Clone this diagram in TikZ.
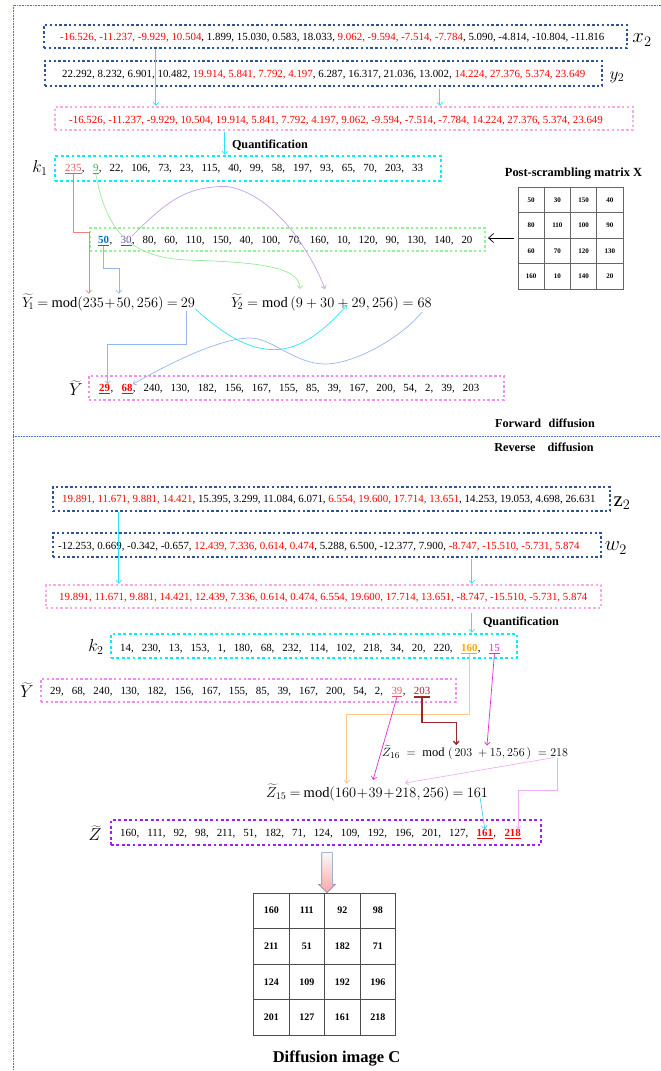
\documentclass[tikz,border=0pt]{standalone}
\usepackage{fontspec}
\setmainfont{Liberation Serif}
\usetikzlibrary{arrows.meta, positioning, calc, shapes.arrows, matrix}

\definecolor{rowblue}{RGB}{46, 84, 150}
\definecolor{rowpink}{RGB}{250, 170, 225}
\definecolor{rowviolet}{RGB}{240, 140, 240}
\definecolor{rowcyan}{RGB}{0, 240, 255}
\definecolor{rowgreen}{RGB}{150, 240, 150}
\definecolor{rowpurple}{RGB}{160, 30, 240}
\definecolor{framblue}{RGB}{70, 110, 200}
\definecolor{numred}{RGB}{255, 0, 0}
\definecolor{numpink}{RGB}{225, 90, 100}
\definecolor{numgreen}{RGB}{60, 170, 90}
\definecolor{numblue}{RGB}{0, 112, 192}
\definecolor{numpurple}{RGB}{120, 60, 170}
\definecolor{numorange}{RGB}{255, 170, 0}
\definecolor{linkred}{RGB}{240, 130, 130}
\definecolor{linkblue}{RGB}{150, 180, 240}
\definecolor{linkcyan}{RGB}{40, 230, 250}
\definecolor{linkgreen}{RGB}{150, 235, 150}
\definecolor{linkpurple}{RGB}{195, 160, 235}
\definecolor{linkorange}{RGB}{255, 200, 140}
\definecolor{linkbrown}{RGB}{150, 40, 40}
\definecolor{linkmagenta}{RGB}{230, 40, 200}
\definecolor{linklilac}{RGB}{240, 175, 240}
\definecolor{linksky}{RGB}{80, 200, 240}

\newcommand{\rd}[1]{\textcolor{numred}{#1}}
\newcommand{\nsep}{,\hspace{8pt}\null}
\newcommand{\uln}[2]{\textcolor{#1}{\underline{#2}}}
\newcommand{\ulbold}[2]{\textcolor{#1}{\vtop{\hbox{#2}\kern1.2pt\hrule height 1.6pt}}}
\newcommand{\tightmath}{\medmuskip=1mu\thickmuskip=4mu\relax}

\tikzset{
  dotbox/.style={draw=#1, line width=2.4pt, dash pattern=on 2.4pt off 2.4pt, inner sep=0pt},
  rowtext/.style={font=\fontsize{10.9}{13}\selectfont, inner sep=0pt, anchor=base west},
  rowlabel/.style={font=\fontsize{17}{20}\selectfont, inner sep=0pt},
  formula/.style={font=\fontsize{14.5}{17}\selectfont, inner sep=0pt, anchor=base west},
  heading/.style={font=\bfseries\fontsize{12.2}{14}\selectfont, inner sep=0pt},
  link/.style={line width=0.7pt, -{Straight Barb[length=3pt,width=5.5pt]}},
  cellx/.style={draw=black!60, line width=0.6pt, minimum width=26.25pt, minimum height=25.5pt, inner sep=0pt, font=\bfseries\fontsize{7}{8}\selectfont},
  cellc/.style={draw=black!70, line width=0.6pt, minimum size=35.5pt, inner sep=0pt, font=\bfseries\fontsize{10}{12}\selectfont},
  blockarrow/.style={single arrow, shape border rotate=270, draw=rowblue!65, line width=0.6pt, top color=gray!5, bottom color=red!35, minimum height=40pt, minimum width=16pt, inner sep=5pt, single arrow head extend=3pt},
  frame/.style={draw=framblue, line width=0.6pt, dash pattern=on 0.8pt off 0.8pt}
}

\begin{document}
\begin{tikzpicture}[x=1pt, y=-1pt]
\useasboundingbox (0,0) rectangle (661,1071);
% outer frame and the split between the two stages
\draw[frame] (661,5) -- (13,5) -- (13,1071);
\draw[frame] (13,436) -- (661,436);

% ---------- forward diffusion ----------
\node[dotbox=rowblue, minimum width=583pt, minimum height=23pt] (bx2) at (335.5,36.5) {};
\node[rowtext] (tx2) at (60,40.7) {\rd{-16.526, -11.237, -9.929, 10.504}, 1.899, 15.030, 0.583, 18.033, \rd{9.062, -9.594, -7.514, -7.784}, 5.090, -4.814, -10.804, -11.816};
\node[rowlabel, font=\fontsize{21}{24}\selectfont] (lx2) at (642,40) {$x_2$};

\node[dotbox=rowblue, minimum width=557pt, minimum height=25pt] (by2) at (323.5,73.5) {};
\node[rowtext] (ty2) at (62,77) {22.292, 8.232, 6.901, 10.482, \rd{19.914, 5.841, 7.792, 4.197}, 6.287, 16.317, 21.036, 13.002, \rd{14.224, 27.376, 5.374, 23.649}};
\node[rowlabel] (ly2) at (617,77) {$y_2$};

\node[dotbox=rowpink, minimum width=578pt, minimum height=23pt] (bp1) at (344,118.5) {};
\node[rowtext, text=numred] (tp1) at (69,123) {-16.526, -11.237, -9.929, 10.504, 19.914, 5.841, 7.792, 4.197, 9.062, -9.594, -7.514, -7.784, 14.224, 27.376, 5.374, 23.649};

\node[dotbox=rowcyan, line width=2.8pt, dash pattern=on 2.8pt off 2.6pt, minimum width=386pt, minimum height=25pt] (bk1) at (248,168.5) {};
\node[rowtext] (k1a) at (65,171.7) {\uln{numpink}{235}};
\node[rowtext] (k1s) at (k1a.base east) {\nsep};
\node[rowtext] (k1b) at (k1s.base east) {\uln{numgreen}{9}};
\node[rowtext] (k1r) at (k1b.base east) {\nsep 22\nsep 106\nsep 73\nsep 23\nsep 115\nsep 40\nsep 99\nsep 58\nsep 197\nsep 93\nsep 65\nsep 70\nsep 203\nsep 33};
\node[rowlabel] (lk1) at (40,168) {$k_1$};

\matrix (mx) [matrix of nodes, nodes={cellx}, column sep=-0.6pt, row sep=-0.6pt] at (570.5,238) {
  50 & 30 & 150 & 40 \\
  80 & 110 & 100 & 90 \\
  60 & 70 & 120 & 130 \\
  160 & 10 & 140 & 20 \\
};
\node[heading, font=\bfseries\fontsize{12.4}{14}\selectfont, above=4pt of mx, xshift=3pt] (mxt) {Post-scrambling matrix X};

\node[dotbox=rowgreen, line width=2.2pt, minimum width=395pt, minimum height=23pt] (bgn) at (287.5,239.5) {};
\node[rowtext] (gna) at (98,243.7) {\uln{numblue}{\textbf{50}}};
\node[rowtext] (gns) at (gna.base east) {\nsep};
\node[rowtext] (gnb) at (gns.base east) {\uln{numpurple}{30}};
\node[rowtext] (gnr) at (gnb.base east) {\nsep 80\nsep 60\nsep 110\nsep 150\nsep 40\nsep 100\nsep 70\nsep 160\nsep 10\nsep 120\nsep 90\nsep 130\nsep 140\nsep 20};

\node[formula] (fy1) at (22,307) {$\tightmath\widetilde{Y}_{\!1}=\mathrm{mod}(235+50,256)=29$};
\node[formula] (fy2) at (231,307) {$\widetilde{Y}_{\!2}=\mathrm{mod}\,(9+30+29,256)=68$};

\node[dotbox=rowviolet, minimum width=415pt, minimum height=24pt] (byt1) at (296.5,388) {};
\node[rowtext] (yta) at (99,391.7) {\uln{numred}{\textbf{29}}};
\node[rowtext] (yts) at (yta.base east) {\nsep};
\node[rowtext] (ytb) at (yts.base east) {\uln{numred}{\textbf{68}}};
\node[rowtext] (ytr) at (ytb.base east) {\nsep 240\nsep 130\nsep 182\nsep 156\nsep 167\nsep 155\nsep 85\nsep 39\nsep 167\nsep 200\nsep 54\nsep 2\nsep 39\nsep 203};
\node[rowlabel] (lyt1) at (76,388) {$\widetilde{Y}$};

\node[heading] (fwd) at (545,423) {Forward\hspace{7.5pt}diffusion};

% forward links
\draw[link, linkcyan] ($(bx2.south west)+(113,0)$) coordinate (a1) -- (a1 |- bp1.north);
\draw[link, linkcyan] ($(by2.south west)+(396,2)$) coordinate (a2) -- (a2 |- bp1.north);
\draw[link, linkcyan] ($(bp1.south west)+(171,1)$) coordinate (a3) -- (a3 |- bk1.north);
\node[heading, anchor=west] (q1) at ($(a3)+(7,13)$) {Quantification};
\draw[link, -{Straight Barb[length=5pt,width=9pt]}, black, shorten >=2pt] (mx.west) -- (mx.west -| bgn.east);

\draw[link, linkred] (k1a.south) |- ($(bgn.north west)+(0,5)$) coordinate (r1) -- (r1 |- fy1.north);
\draw[link, linkblue] (gna.south) |- ($(bgn.south west)+(30,16)$) coordinate (b1) -- (b1 |- fy1.north);
\draw[link, linkgreen] (k1b.south) .. controls +(10,55) and +(-60,-2) .. ($(bgn.south west)+(100,8)$) .. controls +(70,2) and +(0,-22) .. ($(fy2.base west)+(69,-18)$);
\draw[link, linkpurple] (gnb.north east) .. controls +(36,-36) and +(-40,0) .. ($(bk1.south west)+(173,4)$) .. controls +(47,7) and +(-15,-39) .. ($(fy2.base west)+(94,-18)$);

\draw[link, linkblue] ($(fy1.base east)+(-9,4)$) |- ($(byt1.north west)+(20,-30)$) coordinate (b2) -- (b2 |- yta.north);
\draw[link, linkcyan] ($(fy1.base east)+(0,2)$) .. controls +(66,60) and +(-47,53) .. ($(fy2.base west)+(116,-2)$);
\draw[link, linkblue] ($(fy2.base west)+(191,5)$) .. controls +(-20,25) and +(30,0) .. ($(fy2.base west)+(94,57)$) .. controls +(-30,0) and +(22,0) .. ($(fy2.base west)+(19,31)$) .. controls +(-30,0) and +(35,-20) .. (ytb.north east);

% ---------- reverse diffusion ----------
\node[heading] (rev) at (544,447) {Reverse\hspace{12pt}diffusion};

\node[dotbox=rowblue, minimum width=557pt, minimum height=24pt] (bz2) at (331.5,499) {};
\node[rowtext] (tz2) at (62,502.7) {\rd{19.891, 11.671, 9.881, 14.421}, 15.395, 3.299, 11.084, 6.071, \rd{6.554, 19.600, 17.714, 13.651}, 14.253, 19.053, 4.698, 26.631};
\node[rowlabel, font=\fontsize{21}{24}\selectfont] (lz2) at (622,503) {$\mathrm{z}_2$};

\node[dotbox=rowblue, minimum width=548pt, minimum height=24pt] (bw2) at (327,545) {};
\node[rowtext] (tw2) at (58,549.7) {-12.253, 0.669, -0.342, -0.657, \rd{12.439, 7.336, 0.614, 0.474}, 5.288, 6.500, -12.377, 7.900, \rd{-8.747, -15.510, -5.731, 5.874}};
\node[rowlabel, font=\fontsize{21}{24}\selectfont] (lw2) at (616,548) {$w_2$};

\node[dotbox=rowpink, minimum width=555pt, minimum height=23pt] (bp2) at (323.5,596.5) {};
\node[rowtext, text=numred] (tp2) at (59,600.7) {19.891, 11.671, 9.881, 14.421, 12.439, 7.336, 0.614, 0.474, 6.554, 19.600, 17.714, 13.651, -8.747, -15.510, -5.731, 5.874};

\node[dotbox=rowcyan, line width=2.8pt, dash pattern=on 2.8pt off 2.6pt, minimum width=406pt, minimum height=24pt] (bk2) at (314,646) {};
\node[rowtext] (k2r) at (120,651.7) {14\nsep 230\nsep 13\nsep 153\nsep 1\nsep 180\nsep 68\nsep 232\nsep 114\nsep 102\nsep 218\nsep 34\nsep 20\nsep 220\nsep};
\node[rowtext] (k2a) at (k2r.base east) {\uln{numorange}{\textbf{160}}};
\node[rowtext] (k2s) at (k2a.base east) {\nsep};
\node[rowtext] (k2b) at (k2s.base east) {\uln{linkmagenta}{15}};
\node[rowlabel] (lk2) at (96,647) {$k_2$};

\node[dotbox=rowviolet, minimum width=415pt, minimum height=23pt] (byt2) at (248.5,690.5) {};
\node[rowtext] (y2r) at (50,694.7) {29\nsep 68\nsep 240\nsep 130\nsep 182\nsep 156\nsep 167\nsep 155\nsep 85\nsep 39\nsep 167\nsep 200\nsep 54\nsep 2\nsep};
\node[rowtext] (y2a) at (y2r.base east) {\uln{numpink}{39}};
\node[rowtext] (y2s) at (y2a.base east) {\nsep};
\node[rowtext] (y2b) at (y2s.base east) {\ulbold{linkbrown}{203}};
\node[rowlabel] (lyt2) at (27,690) {$\widetilde{Y}$};

\node[formula, font=\fontsize{12.5}{15}\selectfont] (fz16) at (382,756.5) {$\widetilde{Z}_{16}\;=\;\mathrm{mod}\;(\,203\;+15,256\,)\;=218$};
\node[formula] (fz15) at (266,797) {$\tightmath\widetilde{Z}_{15}=\mathrm{mod}(160+39+218,256)=161$};

\node[dotbox=rowpurple, line width=2.8pt, dash pattern=on 2.8pt off 2.6pt, minimum width=430pt, minimum height=25pt] (bzt) at (326,832.5) {};
\node[rowtext] (ztr) at (120,836.7) {160\nsep 111\nsep 92\nsep 98\nsep 211\nsep 51\nsep 182\nsep 71\nsep 124\nsep 109\nsep 192\nsep 196\nsep 201\nsep 127\nsep};
\node[rowtext] (zta) at (ztr.base east) {\uln{numred}{\textbf{161}}};
\node[rowtext] (zts) at (zta.base east) {\nsep};
\node[rowtext] (ztb) at (zts.base east) {\uln{numred}{\textbf{218}}};
\node[rowlabel] (lzt) at (95,833) {$\widetilde{Z}$};

% reverse links
\draw[link, linkcyan] ($(bz2.south west)+(67,0)$) coordinate (a4) -- (a4 |- bp2.north);
\draw[link, linkcyan] ($(bw2.south west)+(420,1)$) coordinate (a5) -- (a5 |- bp2.north);
\draw[link, linkcyan] ($(bp2.south west)+(427,4)$) coordinate (a6) -- (a6 |- bk2.north);
\node[heading, anchor=west] (q2) at ($(a6)+(11,9)$) {Quantification};

\draw[link, linkorange] (k2a.south) |- ($(byt2.south west)+(307,11)$) coordinate (o1) -- (o1 |- fz15.north);
\draw[link, linkbrown, line width=1.4pt] (y2b.south) |- ($(byt2.south east)+(-1,19)$) coordinate (o2) -- (o2 |- fz16.north);
\draw[link, linkmagenta] (y2a.south) -- ($(fz15.base west)+(107,-17)$);
\draw[link, linkmagenta] (k2b.south) -- ($(fz16.base west)+(105,-11)$);
\draw[link, linklilac] ($(fz16.base east)+(-14,1)$) -- ($(fz15.base west)+(139,-14)$);
\draw[link, linklilac] ($(fz16.base east)+(-11,1)$) |- ($(bzt.north east)+(-24,-28)$) coordinate (l2) -- (l2 |- ztb.north);
\draw[link, linksky] ($(fz15.base east)+(-8,1)$) -- (zta.north);

% diffusion image
\node[blockarrow] (barr) at (327,870) {};
\matrix (mc) [matrix of nodes, nodes={cellc}, column sep=-0.6pt, row sep=-0.6pt] at (324.5,964) {
  160 & 111 & 92 & 98 \\
  211 & 51 & 182 & 71 \\
  124 & 109 & 192 & 196 \\
  201 & 127 & 161 & 218 \\
};
\node[heading, font=\bfseries\fontsize{16.5}{19}\selectfont] (tc) at (336.5,1058) {Diffusion image C};
\end{tikzpicture}
\end{document}
